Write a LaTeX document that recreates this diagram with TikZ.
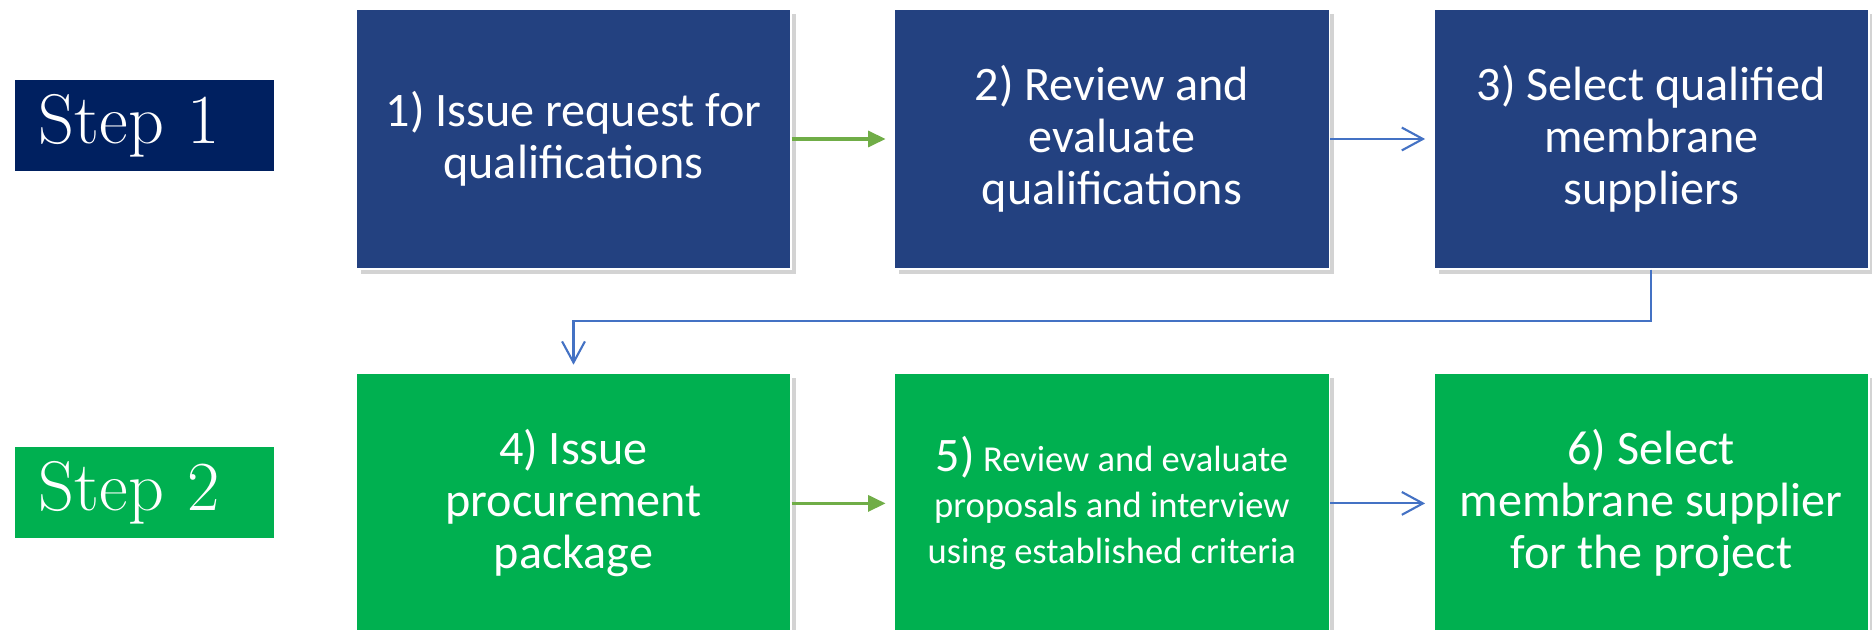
\documentclass[tikz,border=0pt]{standalone}
\usepackage{fontspec}
\newfontfamily\boxfont{Carlito}
\usetikzlibrary{arrows.meta,positioning,shadows}
\definecolor{stepnavy}{HTML}{002060}
\definecolor{boxblue}{HTML}{234180}
\definecolor{boxgreen}{HTML}{00B050}
\definecolor{arrowgreen}{HTML}{70AD47}
\definecolor{arrowblue}{HTML}{4472C4}

\begin{document}
\begin{tikzpicture}[
    every node/.style={text=white},
    procbox/.style={minimum width=4.35cm, minimum height=2.6cm, inner sep=0pt, align=center,
        font=\boxfont\fontsize{13.7}{14.8}\selectfont, draw=white, line width=0.4pt,
        drop shadow={shadow xshift=0.05cm, shadow yshift=-0.05cm, opacity=0.35}},
    steplabel/.style={minimum width=2.59cm, minimum height=0.91cm, text width=2.11cm,
        inner xsep=0.24cm, inner ysep=0pt, align=left, font=\fontsize{20}{24}\selectfont},
    greenflow/.style={draw=arrowgreen, line width=1pt, -{Triangle[length=5pt,width=4.5pt]}, shorten >=0.08cm},
    blueflow/.style={draw=arrowblue, line width=0.6pt, -{Straight Barb[length=6pt,width=6.5pt]}, shorten >=0.08cm}]
    \useasboundingbox (0,0) rectangle (18.72,-6.30);

    \node[steplabel, fill=stepnavy] (step1) at (1.445,-1.255) {Step 1};
    \node[steplabel, fill=boxgreen] (step2) at (1.445,-4.925) {Step 2};

    \node[procbox, fill=boxblue] (box1) at (5.735,-1.39) {1) Issue request for\\qualifications};
    \node[procbox, fill=boxblue, right=1.02cm of box1] (box2) {2) Review and\\evaluate\\qualifications};
    \node[procbox, fill=boxblue, right=1.03cm of box2] (box3) {3) Select qualified\\membrane\\suppliers};

    \node[procbox, fill=boxgreen, below=1.03cm of box1] (box4) {4) Issue\\procurement\\package};
    \node[procbox, fill=boxgreen, right=1.02cm of box4, font=\boxfont\fontsize{10.4}{13.1}\selectfont] (box5)
        {{\fontsize{13.7}{14.8}\selectfont 5)} Review and evaluate\\proposals and interview\\using established criteria};
    \node[procbox, fill=boxgreen, right=1.03cm of box5] (box6) {6) Select\\membrane supplier\\for the project};

    \draw[greenflow] (box1) -- (box2);
    \draw[blueflow] (box2) -- (box3);
    \draw[blueflow] (box3.south) -- ++(0,-0.51) -| (box4.north);
    \draw[greenflow] (box4) -- (box5);
    \draw[blueflow] (box5) -- (box6);
\end{tikzpicture}
\end{document}
